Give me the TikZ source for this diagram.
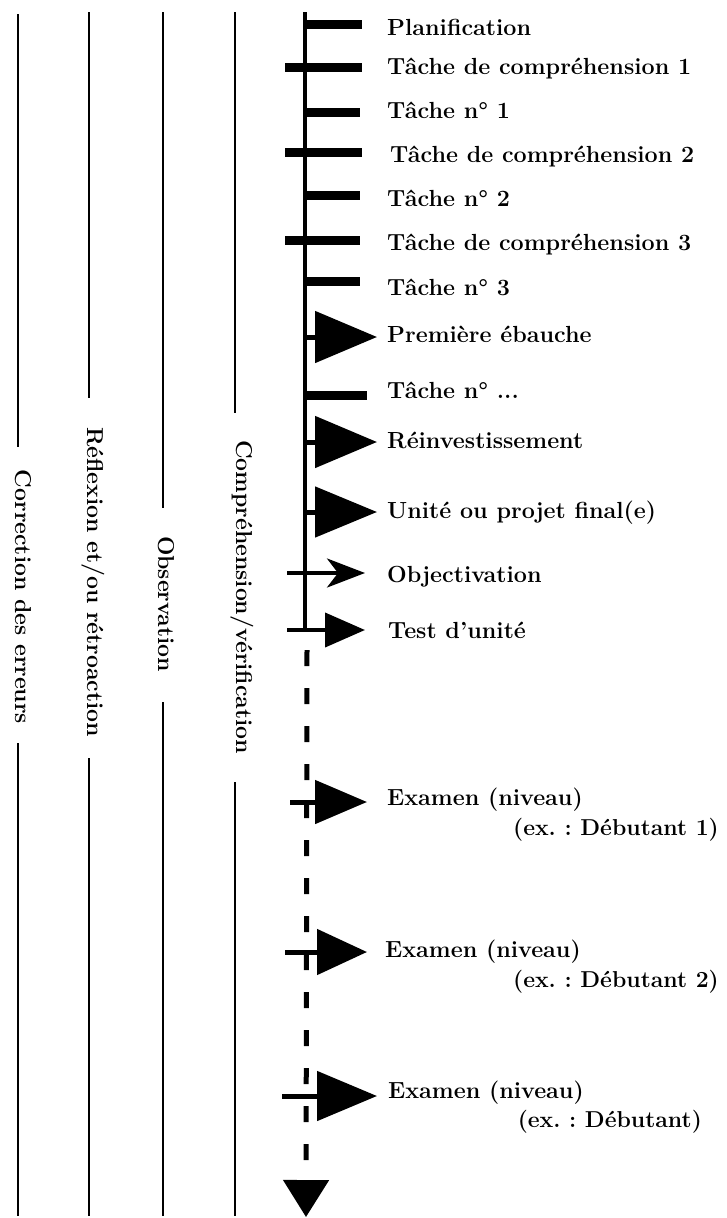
\documentclass[tikz,border=0pt]{standalone}
\usetikzlibrary{arrows.meta}
\begin{document}
\frenchspacing
\begin{tikzpicture}[x=1pt,y=-1pt,
  lbl/.style={font=\fontsize{23.3}{27}\selectfont\bfseries, inner sep=0pt, anchor=base west},
  sublbl/.style={font=\fontsize{23}{27}\selectfont\bfseries, inner sep=0pt, anchor=base east},
  vlbl/.style={font=\fontsize{23}{27}\selectfont\bfseries, inner sep=0pt, anchor=base, rotate=-90},
  rule/.style={line width=2.4pt},
  axisline/.style={line width=4.5pt},
  bar/.style={line width=9pt},
  bigarrow/.style={line width=5pt},
  dashaxis/.style={line width=5pt, dash pattern=on 16pt off 22pt},
]
\useasboundingbox[fill=white] (0,0) rectangle (727,1218);

% ---- vertical rules with rotated labels ----
\coordinate (c1t) at (18,14);  \coordinate (c1a) at (18,447); \coordinate (c1b) at (18,743); \coordinate (c1e) at (18,1216);
\coordinate (c2t) at (89,12);  \coordinate (c2a) at (89,398); \coordinate (c2b) at (89,758); \coordinate (c2e) at (89,1216);
\coordinate (c3t) at (163,12); \coordinate (c3a) at (163,508); \coordinate (c3b) at (163,702); \coordinate (c3e) at (163,1216);
\coordinate (c4t) at (235,12); \coordinate (c4a) at (235,413); \coordinate (c4b) at (235,782); \coordinate (c4e) at (235,1216);

\node[vlbl] (v1) at (15,597) {Correction des erreurs};
\node[vlbl] (v2) at (87,582) {Réflexion et/ou rétroaction};
\node[vlbl] (v3) at (158,604) {Observation};
\node[vlbl] (v4) at (236,597) {Compréhension/vérification};

\draw[rule] (c1t) -- (c1a) (c1b) -- (c1e);
\draw[rule] (c2t) -- (c2a) (c2b) -- (c2e);
\draw[rule] (c3t) -- (c3a) (c3b) -- (c3e);
\draw[rule] (c4t) -- (c4a) (c4b) -- (c4e);

% ---- main axis ----
\coordinate (axTop) at (305,12);
\coordinate (axEnd) at (305,630);
\coordinate (dStart) at (307,650);
\coordinate (dEnd) at (306,1217);
\draw[axisline] (axTop) -- (axEnd);
\draw[dashaxis, -{Triangle[width=45pt,length=37pt]}] (dStart) -- (dEnd);

% ---- labels ----
\node[lbl] (l1)  at (387,35)  {Planification};
\node[lbl] (l2)  at (387,74)  {Tâche de compréhension 1};
\node[lbl] (l3)  at (387,118) {Tâche n° 1};
\node[lbl] (l4)  at (390,162) {Tâche de compréhension 2};
\node[lbl] (l5)  at (387,206) {Tâche n° 2};
\node[lbl] (l6)  at (387,250) {Tâche de compréhension 3};
\node[lbl] (l7)  at (387,295) {Tâche n° 3};
\node[lbl] (l8)  at (387,342) {Première ébauche};
\node[lbl] (l9)  at (387,398) {Tâche n° ...};
\node[lbl] (l10) at (387,448) {Réinvestissement};
\node[lbl] (l11) at (387,518) {Unité ou projet final(e)};
\node[lbl] (l12) at (387,582) {Objectivation};
\node[lbl] (l13) at (388,638) {Test d'unité};
\node[lbl] (l14) at (387,805) {Examen (niveau)};
\node[sublbl] (l14b) at (719,835) {(ex. : Débutant 1)};
\node[lbl] (l15) at (385,957) {Examen (niveau)};
\node[sublbl] (l15b) at (719,987) {(ex. : Débutant 2)};
\node[lbl] (l16) at (388,1098) {Examen (niveau)};
\node[sublbl] (l16b) at (702,1127) {(ex. : Débutant)};

% ---- bars ----
\coordinate (b1s) at (305,24);  \coordinate (b1e) at (362,24);
\coordinate (b2s) at (285,67);  \coordinate (b2e) at (362,67);
\coordinate (b3s) at (305,112); \coordinate (b3e) at (360,112);
\coordinate (b4s) at (285,152); \coordinate (b4e) at (362,152);
\coordinate (b5s) at (305,195); \coordinate (b5e) at (360,195);
\coordinate (b6s) at (285,240); \coordinate (b6e) at (360,240);
\coordinate (b7s) at (305,281); \coordinate (b7e) at (360,281);
\coordinate (b9s) at (305,395); \coordinate (b9e) at (367,395);
\draw[bar] (b1s) -- (b1e);
\draw[bar] (b2s) -- (b2e);
\draw[bar] (b3s) -- (b3e);
\draw[bar] (b4s) -- (b4e);
\draw[bar] (b5s) -- (b5e);
\draw[bar] (b6s) -- (b6e);
\draw[bar] (b7s) -- (b7e);
\draw[bar] (b9s) -- (b9e);

% ---- arrows ----
\coordinate (a8s) at (305,337);  \coordinate (a8e) at (377,337);
\coordinate (a10s) at (305,442); \coordinate (a10e) at (377,442);
\coordinate (a11s) at (305,512); \coordinate (a11e) at (377,512);
\coordinate (a12s) at (287,573); \coordinate (a12e) at (365,573);
\coordinate (a13s) at (287,630); \coordinate (a13e) at (365,630);
\coordinate (a14s) at (290,802); \coordinate (a14e) at (367,802);
\coordinate (a15s) at (285,952); \coordinate (a15e) at (367,952);
\coordinate (a16s) at (282,1096); \coordinate (a16e) at (377,1096);

\draw[bigarrow, -{Triangle[width=51pt,length=62pt]}] (a8s) -- (a8e);
\draw[bigarrow, -{Triangle[width=51pt,length=62pt]}] (a10s) -- (a10e);
\draw[bigarrow, -{Triangle[width=50pt,length=62pt]}] (a11s) -- (a11e);
\draw[line width=3.5pt, -{Stealth[width=29pt,length=38pt,inset=11pt]}] (a12s) -- (a12e);
\draw[line width=4pt, -{Triangle[width=34pt,length=40pt]}] (a13s) -- (a13e);
\draw[bigarrow, -{Triangle[width=43pt,length=52pt]}] (a14s) -- (a14e);
\draw[bigarrow, -{Triangle[width=45pt,length=50pt]}] (a15s) -- (a15e);
\draw[bigarrow, -{Triangle[width=49pt,length=60pt]}] (a16s) -- (a16e);
\end{tikzpicture}
\end{document}
